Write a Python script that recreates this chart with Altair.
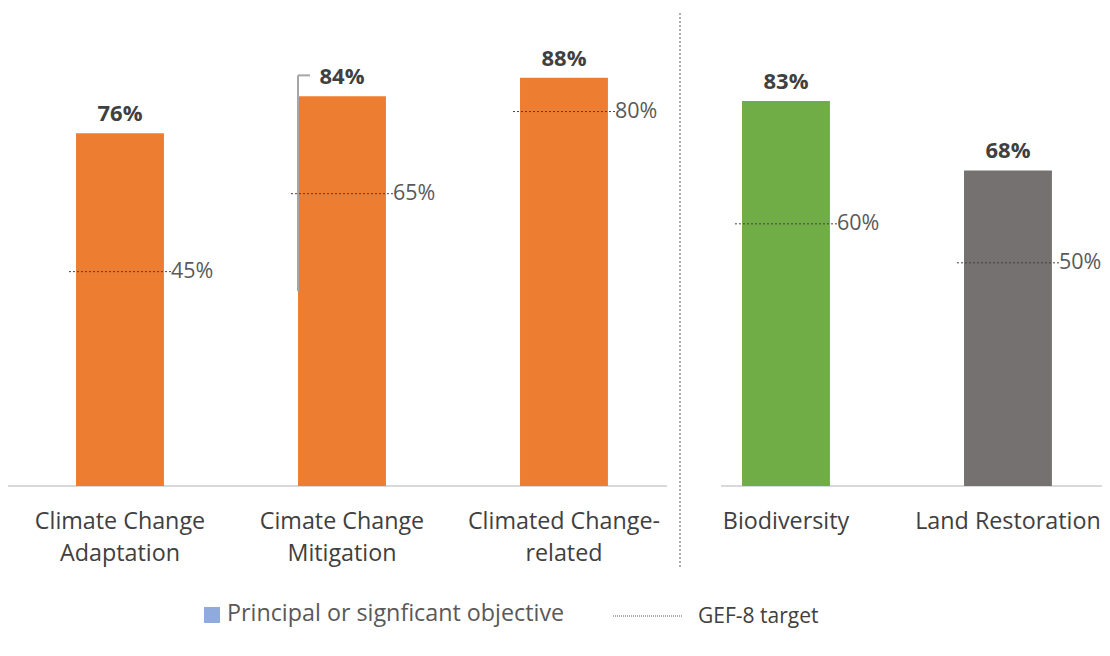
import altair as alt
import pandas as pd

categories = ["Climate Change|Adaptation", "Cimate Change|Mitigation",
              "Climated Change-|related", "Biodiversity", "Land Restoration"]
values = [76, 84, 88, 83, 68]
target_labels = ["45%", "65%", "80%", "60%", "50%"]
target_pos = [46.2, 63.0, 80.7, 56.5, 48.1]
colors = ["#ED7D31", "#ED7D31", "#ED7D31", "#70AD47", "#767171"]

stray_cat = ["Cimate Change|Mitigation"]
stray_low = [42]
stray_high = [88.5]

df = pd.DataFrame({"cat": categories, "value": values, "tpos": target_pos,
                   "tlabel": target_labels, "color": colors})
df["vlabel"] = df["value"].astype(str) + "%"
stray = pd.DataFrame({"cat": stray_cat, "lo": stray_low, "hi": stray_high})

FONT = "Open Sans"

xenc = alt.X("cat:N", sort=categories,
             scale=alt.Scale(paddingInner=0.604, paddingOuter=0.266, align=0.576),
             axis=alt.Axis(title=None, labelExpr="split(datum.label, '|')", labelAngle=0,
                           labelFontSize=23.3, labelFont=FONT, labelColor="#404040",
                           labelLineHeight=32, labelPadding=35, ticks=False, domain=False,
                           labelLimit=300, labelBaseline="middle"))
yscale = alt.Scale(domain=[0, 100])
xs = alt.X("cat:N", sort=categories)

base = alt.Chart(df)

bars = base.mark_bar().encode(
    x=xenc,
    y=alt.Y("value:Q", scale=yscale, axis=None),
    color=alt.Color("color:N", scale=None),
)

vlabels = base.mark_text(dy=-7, baseline="bottom", fontWeight="bold", fontSize=22,
                         font=FONT, color="#404040").encode(
    x=xs, y=alt.Y("value:Q", scale=yscale), text="vlabel:N")

trules = base.mark_rule(strokeDash=[2, 2], color="#404040", strokeWidth=1,
                        xOffset=-51, x2Offset=51).encode(
    x=xs, x2="cat", y=alt.Y("tpos:Q", scale=yscale))

tlabels = base.mark_text(align="left", dx=51, baseline="middle", fontSize=21.5,
                         font=FONT, color="#595959").encode(
    x=xs, y=alt.Y("tpos:Q", scale=yscale), text="tlabel:N")

stray_v = alt.Chart(stray).mark_rule(xOffset=-44, color="#A6A6A6", strokeWidth=2).encode(
    x=xs, y=alt.Y("lo:Q", scale=yscale), y2="hi")
stray_h = alt.Chart(stray).mark_rule(xOffset=-44, x2Offset=-32, color="#A6A6A6", strokeWidth=2).encode(
    x=xs, x2="cat", y=alt.Y("hi:Q", scale=yscale))

one = alt.Data(values=[{}])
base_l = alt.Chart(one).mark_rule(color="#D9D9D9", strokeWidth=2).encode(
    x=alt.value(0), x2=alt.value(659), y=alt.value(464))
base_r = alt.Chart(one).mark_rule(color="#D9D9D9", strokeWidth=2).encode(
    x=alt.value(713), x2=alt.value(1094), y=alt.value(464))
divider = alt.Chart(one).mark_rule(color="#595959", strokeWidth=1, strokeDash=[2, 2]).encode(
    x=alt.value(672), y=alt.value(-9), y2=alt.value(546))

leg_sq = alt.Chart(one).mark_square(size=256, color="#8FAADC", opacity=1, filled=True).encode(
    x=alt.value(204), y=alt.value(593))
leg_t1 = alt.Chart(one).mark_text(align="left", baseline="middle", fontSize=23.3, font=FONT,
                                  color="#595959", text="Principal or signficant objective").encode(
    x=alt.value(219), y=alt.value(592))
leg_rule = alt.Chart(one).mark_rule(color="#595959", strokeWidth=1, strokeDash=[1, 1]).encode(
    x=alt.value(605), x2=alt.value(674), y=alt.value(594))
leg_t2 = alt.Chart(one).mark_text(align="left", baseline="middle", fontSize=21, font=FONT,
                                  color="#404040", text="GEF-8 target").encode(
    x=alt.value(690), y=alt.value(595))

chart = alt.layer(
    base_l, base_r, bars, trules, stray_v, stray_h, vlabels, tlabels, divider,
    leg_sq, leg_t1, leg_rule, leg_t2
).properties(
    width=1094, height=464,
    padding={"top": 14, "left": 0, "right": 0, "bottom": 150},
    autosize=alt.AutoSizeParams(type="none"),
).configure_view(stroke=None)

chart.save("out.html", embed_options={"renderer": "svg", "actions": False})
